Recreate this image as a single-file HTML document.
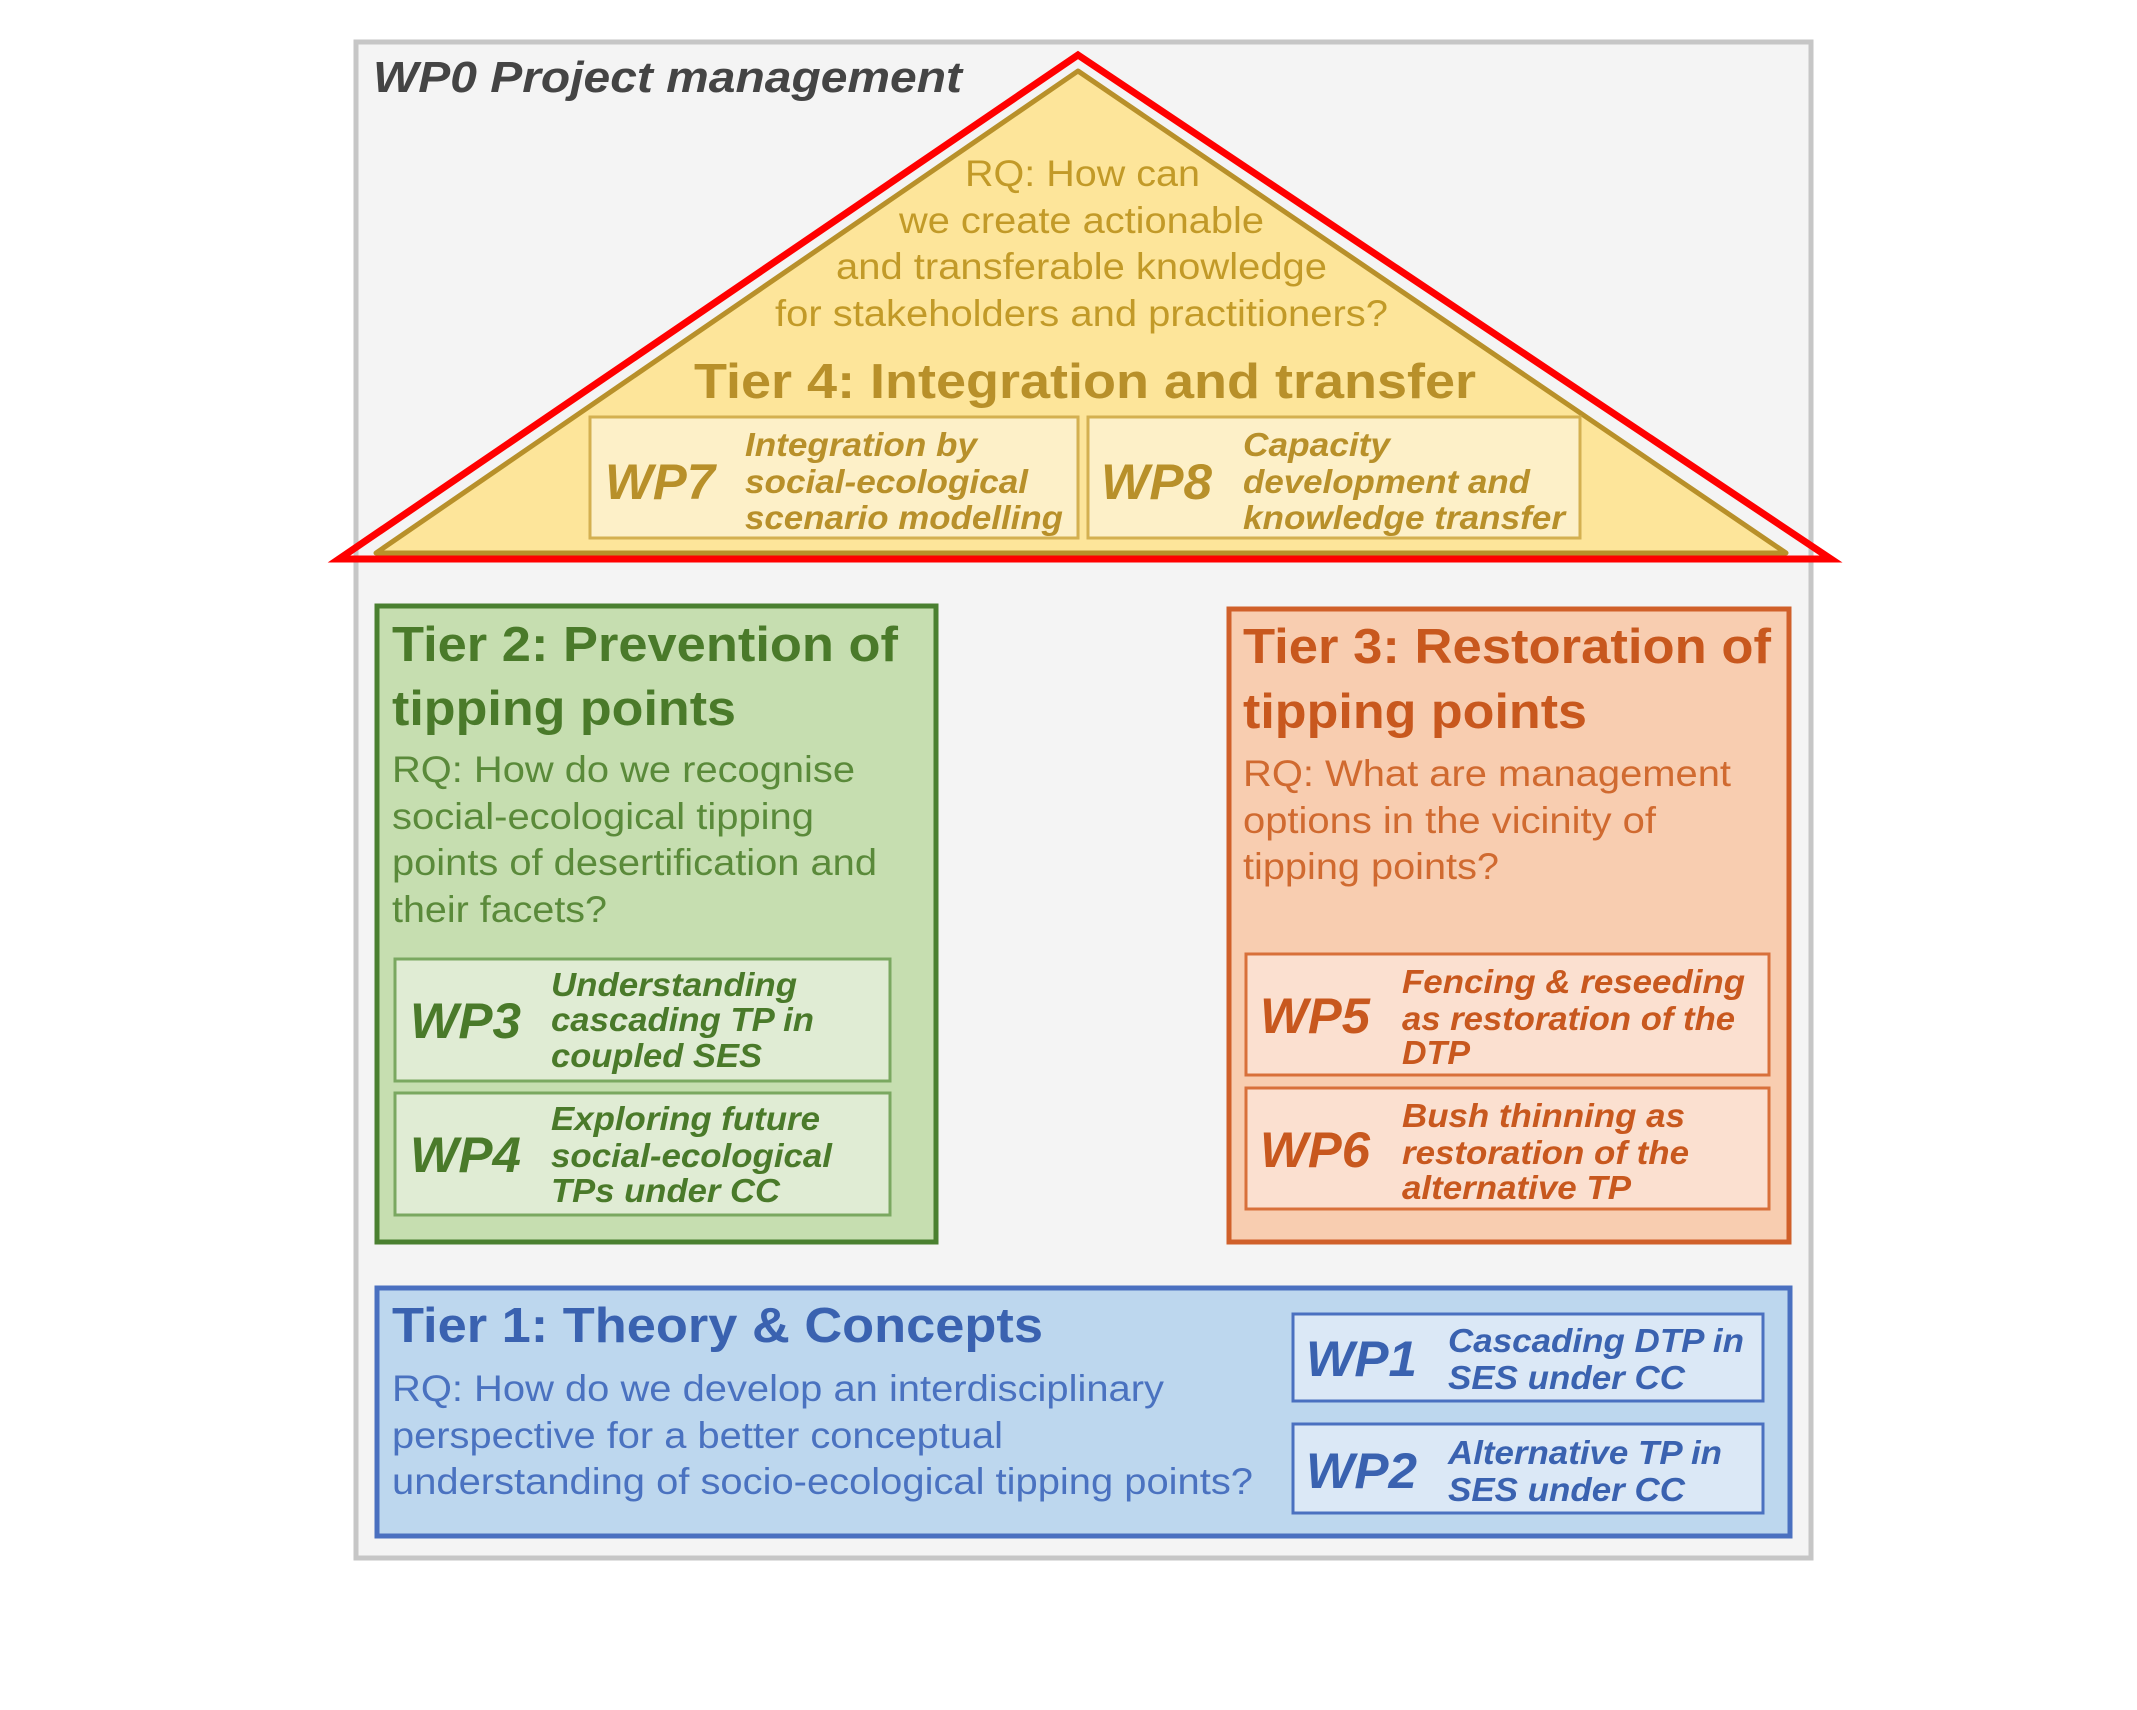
<!DOCTYPE html>
<html><head><meta charset="utf-8"><style>
html,body{margin:0;padding:0;background:#fff;width:2137px;height:1710px;overflow:hidden}
svg{display:block}
text{font-family:"Liberation Sans",Arial,sans-serif}
.t{font-weight:bold;font-size:49px}
.rq{font-size:37px}
.wp{font-weight:bold;font-style:italic;font-size:50px}
.d{font-weight:bold;font-style:italic;font-size:33px}
</style></head><body>
<svg width="2137" height="1710" viewBox="0 0 2137 1710" xmlns="http://www.w3.org/2000/svg">
<rect x="0" y="0" width="2137" height="1710" fill="#fff"/>
<rect x="356" y="42" width="1455" height="1516" fill="#f4f4f4" stroke="#c6c6c6" stroke-width="5"/>
<text x="373" y="92" font-size="44" font-weight="bold" font-style="italic" fill="#444" textLength="589" lengthAdjust="spacingAndGlyphs">WP0 Project management</text>

<!-- Tier 4 triangle -->
<polygon points="1078,71 1786,553 376,553" fill="#fde59a" stroke="#b8902a" stroke-width="5" stroke-linejoin="round"/>
<g fill="#c29a28" text-anchor="start">
<text class="rq" x="965" y="186" textLength="235" lengthAdjust="spacingAndGlyphs">RQ: How can</text>
<text class="rq" x="899" y="233" textLength="365" lengthAdjust="spacingAndGlyphs">we create actionable</text>
<text class="rq" x="836" y="279" textLength="491" lengthAdjust="spacingAndGlyphs">and transferable knowledge</text>
<text class="rq" x="775" y="326" textLength="613" lengthAdjust="spacingAndGlyphs">for stakeholders and practitioners?</text>
<text class="t" x="694" y="398" textLength="782" lengthAdjust="spacingAndGlyphs" fill="#b8902a">Tier 4: Integration and transfer</text>
</g>
<rect x="590" y="417" width="488" height="121" fill="#fdf0c8" stroke="#d4b050" stroke-width="3"/>
<rect x="1088" y="417" width="492" height="121" fill="#fdf0c8" stroke="#d4b050" stroke-width="3"/>
<g fill="#b8902a">
<text class="wp" x="605" y="499" textLength="110" lengthAdjust="spacingAndGlyphs">WP7</text>
<text class="d" x="745" y="456" textLength="232" lengthAdjust="spacingAndGlyphs">Integration by</text>
<text class="d" x="745" y="493" textLength="283" lengthAdjust="spacingAndGlyphs">social-ecological</text>
<text class="d" x="745" y="529" textLength="318" lengthAdjust="spacingAndGlyphs">scenario modelling</text>
<text class="wp" x="1101" y="499" textLength="111" lengthAdjust="spacingAndGlyphs">WP8</text>
<text class="d" x="1243" y="456" textLength="147" lengthAdjust="spacingAndGlyphs">Capacity</text>
<text class="d" x="1243" y="493" textLength="287" lengthAdjust="spacingAndGlyphs">development and</text>
<text class="d" x="1243" y="529" textLength="322" lengthAdjust="spacingAndGlyphs">knowledge transfer</text>
</g>
<polygon points="1078,55 1831,559 339,559" fill="none" stroke="#ff0000" stroke-width="7" stroke-linejoin="miter"/>

<!-- Tier 2 -->
<rect x="377" y="606" width="559" height="636" fill="#c6deb0" stroke="#4a8030" stroke-width="5"/>
<g fill="#4a7a2a">
<text class="t" x="392" y="661" textLength="506" lengthAdjust="spacingAndGlyphs">Tier 2: Prevention of</text>
<text class="t" x="392" y="725" textLength="344" lengthAdjust="spacingAndGlyphs">tipping points</text>
</g>
<g fill="#5a8a3a">
<text class="rq" x="392" y="782" textLength="463" lengthAdjust="spacingAndGlyphs">RQ: How do we recognise</text>
<text class="rq" x="392" y="829" textLength="422" lengthAdjust="spacingAndGlyphs">social-ecological tipping</text>
<text class="rq" x="392" y="875" textLength="485" lengthAdjust="spacingAndGlyphs">points of desertification and</text>
<text class="rq" x="392" y="922" textLength="215" lengthAdjust="spacingAndGlyphs">their facets?</text>
</g>
<rect x="395" y="959" width="495" height="122" fill="#e0ecd4" stroke="#7aa860" stroke-width="3"/>
<rect x="395" y="1093" width="495" height="122" fill="#e0ecd4" stroke="#7aa860" stroke-width="3"/>
<g fill="#4a7a2a">
<text class="wp" x="410" y="1038" textLength="111" lengthAdjust="spacingAndGlyphs">WP3</text>
<text class="d" x="551" y="996" textLength="246" lengthAdjust="spacingAndGlyphs">Understanding</text>
<text class="d" x="551" y="1031" textLength="263" lengthAdjust="spacingAndGlyphs">cascading TP in</text>
<text class="d" x="551" y="1067" textLength="211" lengthAdjust="spacingAndGlyphs">coupled SES</text>
<text class="wp" x="410" y="1172" textLength="111" lengthAdjust="spacingAndGlyphs">WP4</text>
<text class="d" x="551" y="1130" textLength="269" lengthAdjust="spacingAndGlyphs">Exploring future</text>
<text class="d" x="551" y="1167" textLength="281" lengthAdjust="spacingAndGlyphs">social-ecological</text>
<text class="d" x="551" y="1202" textLength="229" lengthAdjust="spacingAndGlyphs">TPs under CC</text>
</g>

<!-- Tier 3 -->
<rect x="1229" y="609" width="560" height="633" fill="#f8cdb0" stroke="#d0602a" stroke-width="5"/>
<g fill="#c8581e">
<text class="t" x="1243" y="663" textLength="528" lengthAdjust="spacingAndGlyphs">Tier 3: Restoration of</text>
<text class="t" x="1243" y="728" textLength="344" lengthAdjust="spacingAndGlyphs">tipping points</text>
</g>
<g fill="#d06a30">
<text class="rq" x="1243" y="786" textLength="488" lengthAdjust="spacingAndGlyphs">RQ: What are management</text>
<text class="rq" x="1243" y="833" textLength="413" lengthAdjust="spacingAndGlyphs">options in the vicinity of</text>
<text class="rq" x="1243" y="879" textLength="256" lengthAdjust="spacingAndGlyphs">tipping points?</text>
</g>
<rect x="1246" y="954" width="523" height="121" fill="#fbe0d0" stroke="#d8703a" stroke-width="3"/>
<rect x="1246" y="1088" width="523" height="121" fill="#fbe0d0" stroke="#d8703a" stroke-width="3"/>
<g fill="#c8581e">
<text class="wp" x="1260" y="1033" textLength="110" lengthAdjust="spacingAndGlyphs">WP5</text>
<text class="d" x="1402" y="993" textLength="343" lengthAdjust="spacingAndGlyphs">Fencing &amp; reseeding</text>
<text class="d" x="1402" y="1030" textLength="333" lengthAdjust="spacingAndGlyphs">as restoration of the</text>
<text class="d" x="1402" y="1064" textLength="68" lengthAdjust="spacingAndGlyphs">DTP</text>
<text class="wp" x="1260" y="1167" textLength="110" lengthAdjust="spacingAndGlyphs">WP6</text>
<text class="d" x="1402" y="1127" textLength="283" lengthAdjust="spacingAndGlyphs">Bush thinning as</text>
<text class="d" x="1402" y="1164" textLength="287" lengthAdjust="spacingAndGlyphs">restoration of the</text>
<text class="d" x="1402" y="1199" textLength="229" lengthAdjust="spacingAndGlyphs">alternative TP</text>
</g>

<!-- Tier 1 -->
<rect x="377" y="1288" width="1413" height="248" fill="#bdd7ee" stroke="#4a70c0" stroke-width="5"/>
<g fill="#3a62b0">
<text class="t" x="392" y="1342" textLength="651" lengthAdjust="spacingAndGlyphs">Tier 1: Theory &amp; Concepts</text>
</g>
<g fill="#4a72c0">
<text class="rq" x="392" y="1401" textLength="772" lengthAdjust="spacingAndGlyphs">RQ: How do we develop an interdisciplinary</text>
<text class="rq" x="392" y="1448" textLength="611" lengthAdjust="spacingAndGlyphs">perspective for a better conceptual</text>
<text class="rq" x="392" y="1494" textLength="861" lengthAdjust="spacingAndGlyphs">understanding of socio-ecological tipping points?</text>
</g>
<rect x="1293" y="1314" width="470" height="87" fill="#dbe8f6" stroke="#4a70c0" stroke-width="3"/>
<rect x="1293" y="1424" width="470" height="89" fill="#dbe8f6" stroke="#4a70c0" stroke-width="3"/>
<g fill="#3a62b0">
<text class="wp" x="1306" y="1376" textLength="111" lengthAdjust="spacingAndGlyphs">WP1</text>
<text class="d" x="1448" y="1352" textLength="296" lengthAdjust="spacingAndGlyphs">Cascading DTP in</text>
<text class="d" x="1448" y="1389" textLength="237" lengthAdjust="spacingAndGlyphs">SES under CC</text>
<text class="wp" x="1306" y="1488" textLength="111" lengthAdjust="spacingAndGlyphs">WP2</text>
<text class="d" x="1448" y="1464" textLength="274" lengthAdjust="spacingAndGlyphs">Alternative TP in</text>
<text class="d" x="1448" y="1501" textLength="237" lengthAdjust="spacingAndGlyphs">SES under CC</text>
</g>
</svg>
</body></html>
